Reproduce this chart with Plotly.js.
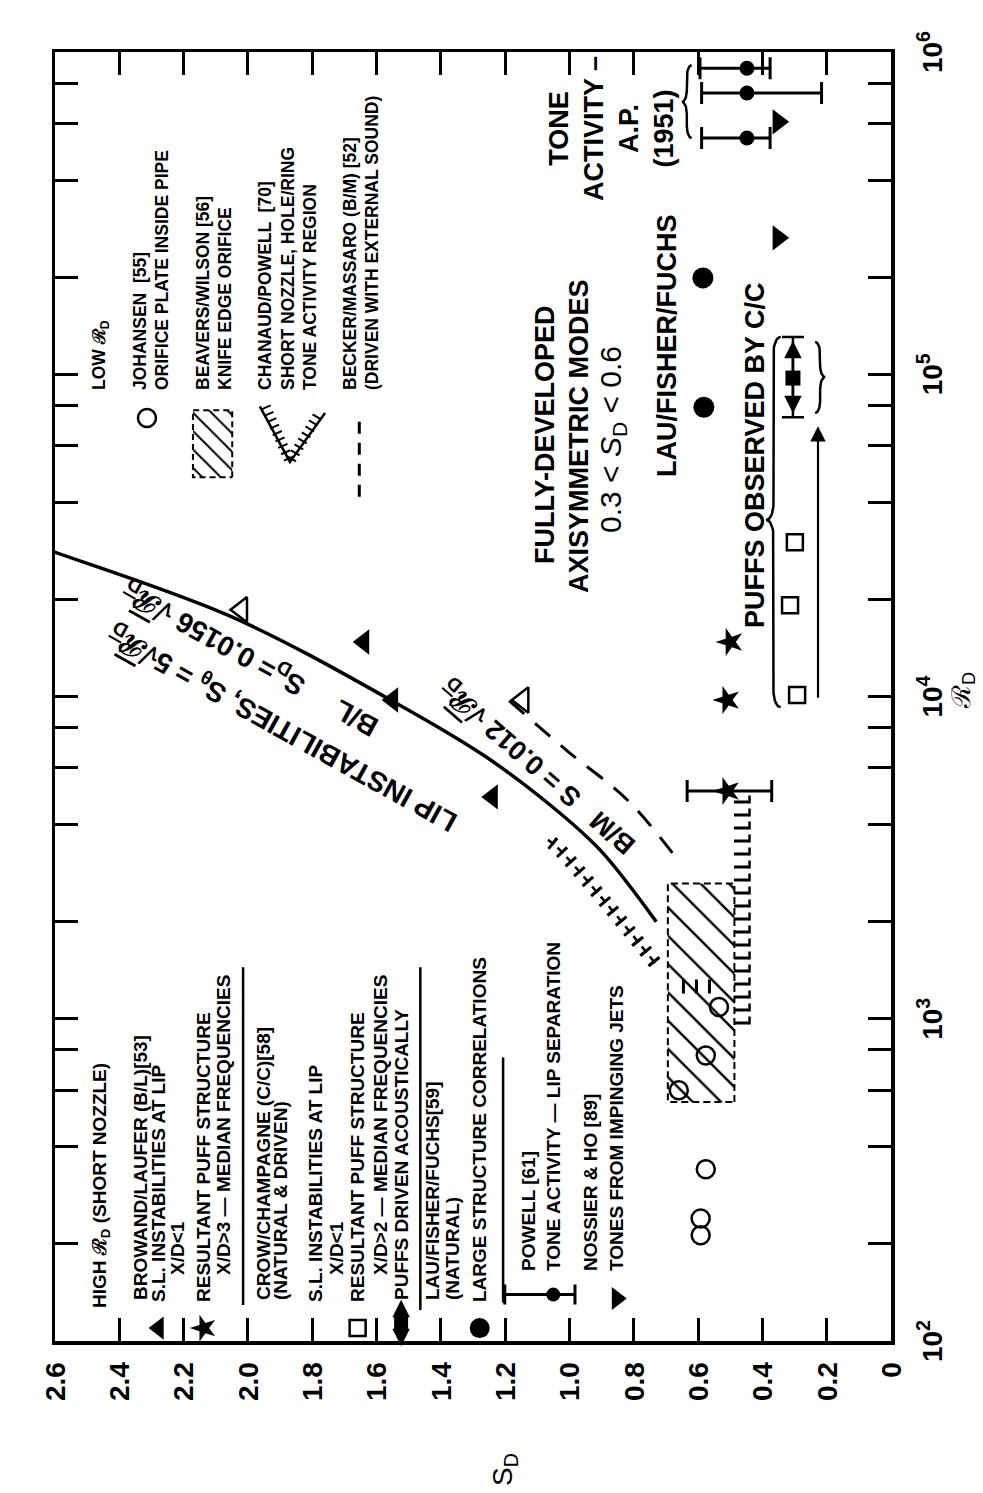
<!DOCTYPE html>
<html><head><meta charset="utf-8">
<script src="https://cdn.plot.ly/plotly-3.0.1.min.js"></script>
<style>
html,body{margin:0;padding:0;overflow:hidden;width:983px;height:1493px;background:#fff;}
#wrap{position:absolute;left:0;top:0;width:1493px;height:983px;transform-origin:0 0;transform:translate(0,1493px) rotate(-90deg);}
</style></head><body>
<div id="wrap"><div id="chart" style="width:1493px;height:983px"></div></div>
<script>
// ---------- tick labels ----------
const reTickVals = [100, 1000, 1e4, 1e5, 1e6];
const reTickText = ['10<sup>2</sup>', '10<sup>3</sup>', '10<sup>4</sup>', '10<sup>5</sup>', '10<sup>6</sup>'];
const reMinorVals = [200,400,600,800,2000,4000,6000,8000,2e4,4e4,6e4,8e4,2e5,4e5,6e5,8e5];
const sdTickVals = [0,0.2,0.4,0.6,0.8,1.0,1.2,1.4,1.6,1.8,2.0,2.2,2.4,2.6];
const sdTickText = ['0','0.2','0.4','0.6','0.8','1.0','1.2','1.4','1.6','1.8','2.0','2.2','2.4','2.6'];

// ---------- data (Re_D, S_D) ----------
const blCurveRe = [2000, 3300, 4350, 6500, 9550, 17660, 28500, 31000];
const blCurveSD = [0.73, 0.90, 1.03, 1.26, 1.54, 2.05, 2.62, 2.72];
const bmCurveRe = [3270, 4775, 6820, 9750];
const bmCurveSD = [0.68, 0.82, 1.01, 1.19];
const blInstabRe = [4880, 9750, 14760];
const blInstabSD = [1.24, 1.55, 1.64];
const blPuffRe = [9750, 14760];
const blPuffSD = [0.51, 0.50];
const blPuffErrRe = [5090];
const blPuffErrSD = [0.51];
const blPuffErrHi = [0.634];
const blPuffErrLo = [0.371];
const ccInstabRe = [9750, 18600, 31700];
const ccInstabSD = [1.145, 2.02, 2.61];
const ccPuffRe = [10100, 19200, 30100];
const ccPuffSD = [0.292, 0.314, 0.299];
const ccDrivenRe = [97300];
const ccDrivenSD = [0.305];
const ccDrivenReLo = [73600];
const ccDrivenReHi = [130600];
const ccArrowRe = [9800, 69000];
const ccArrowSD = [0.227];
const lffRe = [79000, 199000];
const lffSD = [0.582, 0.585];
const powellRe = [541000, 746000, 890000];
const powellSD = [0.448, 0.448, 0.448];
const powellHi = [0.589, 0.589, 0.594];
const powellLo = [0.376, 0.216, 0.376];
const nhRe = [265000, 607000];
const nhSD = [0.351, 0.351];
const johRe = [213, 240, 341, 600, 769, 1087];
const johSD = [0.592, 0.592, 0.576, 0.660, 0.576, 0.535];
const bwRe = [552, 2630];
const bwSD = [0.487, 0.694];
const chLowRe = [960, 4950];
const chLowSD = [0.44, 0.49];
const chUpRe = [1490, 2255, 3412, 3590];
const chUpSD = [0.734, 0.881, 1.039, 1.067];
const chMidRe = [1260];
const chMidSD = [0.56, 0.68];
const bracePuffRe = [9270, 35300, 130600];
const bracePuffSD = [0.343, 0.388];
const braceDrivenRe = [75800, 98000, 126000];
const braceDrivenSD = [0.236, 0.205];
const braceToneRe = [541000, 700000, 910000];
const braceToneSD = [0.62, 0.65];

const FONT = 'Liberation Sans, Arial, Helvetica, sans-serif';
const K = '#000';

function bracePts(reArr, sdArr) {
  const la = Math.log10(reArr[0]), lt = Math.log10(reArr[1]), lb = Math.log10(reArr[2]);
  const y0 = sdArr[0], d = sdArr[1] - sdArr[0];
  const r = Math.min(0.05, (lt - la) / 3, (lb - lt) / 3);
  const xs = [], ys = [], N = 10;
  for (let i = 0; i <= N; i++) { const a = i / N * Math.PI / 2; xs.push(la + r * (1 - Math.cos(a))); ys.push(y0 + d / 2 * Math.sin(a)); }
  for (let i = 0; i <= N; i++) { const a = i / N * Math.PI / 2; xs.push(lt - r + r * Math.sin(a)); ys.push(y0 + d / 2 + d / 2 * (1 - Math.cos(a))); }
  for (let i = 0; i <= N; i++) { const a = i / N * Math.PI / 2; xs.push(lt + r * (1 - Math.cos(a))); ys.push(y0 + d - d / 2 * Math.sin(a)); }
  for (let i = 0; i <= N; i++) { const a = i / N * Math.PI / 2; xs.push(lb - r + r * Math.sin(a)); ys.push(y0 + d / 2 * Math.cos(a)); }
  return {x: xs.map(v => Math.pow(10, v)), y: ys};
}
function braceTrace(re, sd) {
  const p = bracePts(re, sd);
  return {x: p.x, y: p.y, mode: 'lines', line: {color: K, width: 2.5}, hoverinfo: 'skip', cliponaxis: false};
}
const mk = (sym, size, open) => ({symbol: sym, size: size, color: open ? 'rgba(0,0,0,0)' : K, line: {color: K, width: open ? 2.5 : 0}});

const traces = [];
// Beavers/Wilson hatched region
traces.push({x: [bwRe[0], bwRe[1], bwRe[1], bwRe[0], bwRe[0]], y: [bwSD[0], bwSD[0], bwSD[1], bwSD[1], bwSD[0]],
  mode: 'lines', fill: 'toself', fillcolor: 'rgba(255,255,255,0)',
  fillpattern: {shape: '/', size: 20, solidity: 0.12, fgcolor: K, bgcolor: 'rgba(255,255,255,0)'},
  line: {color: K, width: 2, dash: '7px,4px'}, hoverinfo: 'skip'});
// Chanaud/Powell tone activity region (comb lines)
const chLowMid = (chLowSD[0] + chLowSD[1]) / 2;
traces.push({x: chLowRe, y: [chLowMid, chLowMid], mode: 'lines', line: {color: K, width: 15, dash: '3px,10px'}, hoverinfo: 'skip'});
traces.push({x: chLowRe, y: [chLowSD[0], chLowSD[0]], mode: 'lines', line: {color: K, width: 2.5, dash: '8px,5px'}, hoverinfo: 'skip'});
traces.push({x: chUpRe, y: chUpSD, mode: 'lines', line: {color: K, width: 14, dash: '3px,10px', shape: 'spline'}, hoverinfo: 'skip'});
traces.push({x: chUpRe, y: chUpSD, mode: 'lines', line: {color: K, width: 2.5, dash: '8px,5px', shape: 'spline'}, hoverinfo: 'skip'});
traces.push({x: [chMidRe[0], chMidRe[0]], y: chMidSD, mode: 'lines', line: {color: K, width: 14, dash: '3px,10px'}, hoverinfo: 'skip'});
// B/L and B/M curves
traces.push({x: blCurveRe, y: blCurveSD, mode: 'lines', line: {color: K, width: 3.5, shape: 'spline', smoothing: 1}, hoverinfo: 'skip', cliponaxis: false});
traces.push({x: bmCurveRe, y: bmCurveSD, mode: 'lines', line: {color: K, width: 3, dash: '20px,14px', shape: 'spline'}, hoverinfo: 'skip'});
// braces
traces.push(braceTrace(bracePuffRe, bracePuffSD));
traces.push(braceTrace(braceDrivenRe, braceDrivenSD));
traces.push(braceTrace(braceToneRe, braceToneSD));
// markers
traces.push({x: johRe, y: johSD, mode: 'markers', marker: mk('circle', 18, true), cliponaxis: false});
traces.push({x: blInstabRe, y: blInstabSD, mode: 'markers', marker: mk('triangle-up', 22, false), cliponaxis: false});
traces.push({x: blPuffRe, y: blPuffSD, mode: 'markers', marker: mk('star', 21, false), cliponaxis: false});
traces.push({x: blPuffErrRe, y: blPuffErrSD, mode: 'markers', marker: mk('star', 21, false), cliponaxis: false,
  error_y: {type: 'data', symmetric: false, array: blPuffErrHi.map((v, i) => v - blPuffErrSD[i]), arrayminus: blPuffErrLo.map((v, i) => blPuffErrSD[i] - v), color: K, thickness: 3, width: 11}});
traces.push({x: ccInstabRe, y: ccInstabSD, mode: 'markers', marker: mk('triangle-up', 22, true), cliponaxis: false});
traces.push({x: ccPuffRe, y: ccPuffSD, mode: 'markers', marker: mk('square', 16, true), cliponaxis: false});
traces.push({x: ccDrivenRe, y: ccDrivenSD, mode: 'markers', marker: mk('square', 15, false), cliponaxis: false,
  error_x: {type: 'data', symmetric: false, array: ccDrivenReHi.map((v, i) => v - ccDrivenRe[i]), arrayminus: ccDrivenReLo.map((v, i) => ccDrivenRe[i] - v), color: K, thickness: 2.5, width: 11}});
traces.push({x: lffRe, y: lffSD, mode: 'markers', marker: mk('circle', 21, false), cliponaxis: false});
traces.push({x: powellRe, y: powellSD, mode: 'markers', marker: mk('circle', 15, false), cliponaxis: false,
  error_y: {type: 'data', symmetric: false, array: powellHi.map((v, i) => v - powellSD[i]), arrayminus: powellLo.map((v, i) => powellSD[i] - v), color: K, thickness: 3, width: 11}});
traces.push({x: nhRe, y: nhSD, mode: 'markers', marker: mk('triangle-down', 22, false), cliponaxis: false});

// ---------- legend keys (overlay axes in plot-fraction units) ----------
const L = {xaxis: 'x2', yaxis: 'y2', hoverinfo: 'skip', cliponaxis: false};
const key = (x, y, m, extra) => Object.assign({x: [x], y: [y], mode: 'markers', marker: m}, L, extra || {});
traces.push(key(0.010, 0.876, mk('triangle-up', 20, false)));
traces.push(key(0.010, 0.822, mk('star', 20, false)));
traces.push(key(0.010, 0.688, mk('triangle-up-open', 20, true)));
traces.push(key(0.010, 0.638, mk('square', 16, true)));
traces.push(key(0.014, 0.586, mk('square', 14, false)));
traces.push(key(0.010, 0.492, mk('circle', 20, false)));
traces.push(key(0.036, 0.404, mk('circle', 14, false), {error_y: {type: 'data', symmetric: false, array: [0.058], arrayminus: [0.026], color: K, thickness: 3, width: 10}}));
traces.push(key(0.033, 0.328, mk('triangle-down', 20, false)));
traces.push(key(0.716, 0.890, mk('circle', 18, true)));
// separators
[[0.775, 0.028, 0.290], [0.563, 0.024, 0.290], [0.464, 0.030, 0.220]].forEach(s => {
  traces.push(Object.assign({x: [s[1], s[2]], y: [s[0], s[0]], mode: 'lines', line: {color: K, width: 2.5}}, L));
});
// hatch key
traces.push(Object.assign({x: [0.670, 0.722, 0.722, 0.670, 0.670], y: [0.788, 0.788, 0.835, 0.835, 0.788], mode: 'lines', fill: 'toself',
  fillcolor: 'rgba(255,255,255,0)', fillpattern: {shape: '/', size: 13, solidity: 0.15, fgcolor: K, bgcolor: 'rgba(255,255,255,0)'},
  line: {color: K, width: 2, dash: '6px,4px'}}, L));
// comb key (V)
traces.push(Object.assign({x: [0.725, 0.682, 0.720], y: [0.755, 0.719, 0.677], mode: 'lines', line: {color: K, width: 2.5}}, L));
traces.push(Object.assign({x: [0.725, 0.682, 0.720], y: [0.748, 0.719, 0.684], mode: 'lines', line: {color: K, width: 10, dash: '2px,5px'}}, L));
// dashed key
traces.push(Object.assign({x: [0.655, 0.718], y: [0.636, 0.636], mode: 'lines', line: {color: K, width: 3, dash: '12px,9px'}}, L));

// ---------- annotations ----------
const ann = [];
function txt(text, x, y, size, opts) {
  opts = opts || {};
  ann.push(Object.assign({xref: 'paper', yref: 'paper', x: x, y: y, text: text, showarrow: false,
    xanchor: opts.xanchor || 'left', yanchor: opts.yanchor || 'middle', align: opts.align || 'left',
    font: {family: FONT, size: size, weight: opts.weight || 'bold', color: K}}, opts.extra || {}));
}
const RD = 'ℛ<sub>D</sub>';
const SQ = '√<span style="text-decoration:overline">ℛ<sub>D</sub></span>';
const HS = 19;
// high Re legend
txt('HIGH ' + RD + ' (SHORT NOZZLE)', 0.024, 0.945, HS);
txt('BROWAND/LAUFER (B/L)[53]', 0.030, 0.898, HS);
txt('S.L. INSTABILITIES AT LIP', 0.029, 0.876, HS);
txt('X/D&lt;1', 0.050, 0.853, HS);
txt('RESULTANT PUFF STRUCTURE', 0.029, 0.822, HS);
txt('X/D&gt;3 — MEDIAN FREQUENCIES', 0.050, 0.799, HS);
txt('CROW/CHAMPAGNE (C/C)[58]', 0.030, 0.751, HS);
txt('(NATURAL &amp; DRIVEN)', 0.030, 0.730, HS);
txt('S.L. INSTABILITIES AT LIP', 0.029, 0.688, HS);
txt('X/D&lt;1', 0.050, 0.663, HS);
txt('RESULTANT PUFF STRUCTURE', 0.029, 0.638, HS);
txt('X/D&gt;2 — MEDIAN FREQUENCIES', 0.050, 0.611, HS);
txt('PUFFS DRIVEN ACOUSTICALLY', 0.030, 0.586, HS);
txt('LAU/FISHER/FUCHS[59]', 0.030, 0.548, HS);
txt('(NATURAL)', 0.030, 0.525, HS);
txt('LARGE STRUCTURE CORRELATIONS', 0.029, 0.492, HS);
txt('POWELL [61]', 0.053, 0.434, HS);
txt('TONE ACTIVITY — LIP SEPARATION', 0.053, 0.404, HS);
txt('NOSSIER &amp; HO [89]', 0.053, 0.360, HS);
txt('TONES FROM IMPINGING JETS', 0.053, 0.328, HS);
// low Re legend
const LS = 17.5;
txt('LOW ' + RD, 0.736, 0.946, LS);
txt('JOHANSEN  [55]', 0.736, 0.898, LS);
txt('ORIFICE PLATE INSIDE PIPE', 0.736, 0.872, LS);
txt('BEAVERS/WILSON [56]', 0.736, 0.823, LS);
txt('KNIFE EDGE ORIFICE', 0.736, 0.797, LS);
txt('CHANAUD/POWELL  [70]', 0.736, 0.749, LS);
txt('SHORT NOZZLE, HOLE/RING', 0.736, 0.721, LS);
txt('TONE ACTIVITY REGION', 0.736, 0.695, LS);
txt('BECKER/MASSARO (B/M) [52]', 0.736, 0.647, LS);
txt('(DRIVEN WITH EXTERNAL SOUND)', 0.736, 0.621, LS);
// region labels
txt('FULLY-DEVELOPED', 0.703, 0.414, 27, {xanchor: 'center'});
txt('AXISYMMETRIC MODES', 0.702, 0.373, 27, {xanchor: 'center'});
txt('0.3 &lt; <i>S</i><sub>D</sub> &lt; 0.6', 0.699, 0.333, 30, {xanchor: 'center', weight: 'normal'});
txt('LAU/FISHER/FUCHS', 0.772, 0.268, 27, {xanchor: 'center'});
txt('PUFFS OBSERVED BY C/C', 0.687, 0.163, 27, {xanchor: 'center'});
txt('TONE<br>ACTIVITY –<br>A.P.<br>(1951)', 0.941, 0.334, 27, {xanchor: 'center', align: 'center'});
// curve labels
txt('LIP INSTABILITIES, S<sub>θ</sub> = 5' + SQ, 0.476, 0.727, 28, {xanchor: 'center', extra: {textangle: -61}});
txt('B/L     S<sub>D</sub>= 0.0156 ' + SQ, 0.530, 0.765, 28, {xanchor: 'center', extra: {textangle: -61}});
txt('B/M   S = 0.012 ' + SQ, 0.446, 0.421, 27, {xanchor: 'center', extra: {textangle: -49}});
// axis titles
txt('S<sub>D</sub>', -0.100, 0.462, 28, {xanchor: 'center', weight: 'normal'});
txt(RD, 0.505, -0.1077, 26, {xanchor: 'center', yanchor: 'bottom', weight: 'normal'});
// arrows (data coordinates; log axis uses log10 values)
function arrow(x0, x1, y, xr, yr, w) {
  ann.push({xref: xr, yref: yr, axref: xr, ayref: yr, x: x1, y: y, ax: x0, ay: y, text: '', showarrow: true,
    arrowhead: 2, arrowsize: 1.4, arrowwidth: w, arrowcolor: K, standoff: 0});
}
arrow(Math.log10(ccDrivenRe[0]), Math.log10(ccDrivenReHi[0]) - 0.012, ccDrivenSD[0], 'x', 'y', 2.5);
arrow(Math.log10(ccDrivenRe[0]), Math.log10(ccDrivenReLo[0]) + 0.012, ccDrivenSD[0], 'x', 'y', 2.5);
arrow(Math.log10(ccArrowRe[0]), Math.log10(ccArrowRe[1]), ccArrowSD[0], 'x', 'y', 2.2);
arrow(0.014, 0.032, 0.586, 'x2', 'y2', 2.5);
arrow(0.014, -0.004, 0.586, 'x2', 'y2', 2.5);

const axCommon = {ticks: 'inside', ticklen: 23, tickwidth: 3, tickcolor: K, showline: true, linewidth: 3.5, linecolor: K,
  mirror: 'ticks', showgrid: false, zeroline: false, fixedrange: true,
  tickfont: {family: FONT, size: 28, weight: 'bold', color: K}};
const layout = {
  width: 1493, height: 983,
  margin: {l: 152, r: 52, t: 55, b: 92, pad: 0},
  paper_bgcolor: '#fff', plot_bgcolor: '#fff', showlegend: false,
  font: {family: FONT, color: K},
  xaxis: Object.assign({type: 'log', range: [2, 6], tickmode: 'array', tickvals: reTickVals, ticktext: reTickText, ticklabelstandoff: 14,
    minor: {tickmode: 'array', tickvals: reMinorVals, ticks: 'inside', ticklen: 23, tickwidth: 3, tickcolor: K, showgrid: false}}, axCommon),
  yaxis: Object.assign({range: [0, 2.6], tickmode: 'array', tickvals: sdTickVals, ticktext: sdTickText, ticklabelstandoff: 12}, axCommon),
  xaxis2: {overlaying: 'x', anchor: 'y2', range: [0, 1], visible: false, fixedrange: true},
  yaxis2: {overlaying: 'y', anchor: 'x2', range: [0, 1], visible: false, fixedrange: true},
  annotations: ann
};
Plotly.newPlot('chart', traces, layout, {staticPlot: true, displayModeBar: false});
</script>
</body></html>
